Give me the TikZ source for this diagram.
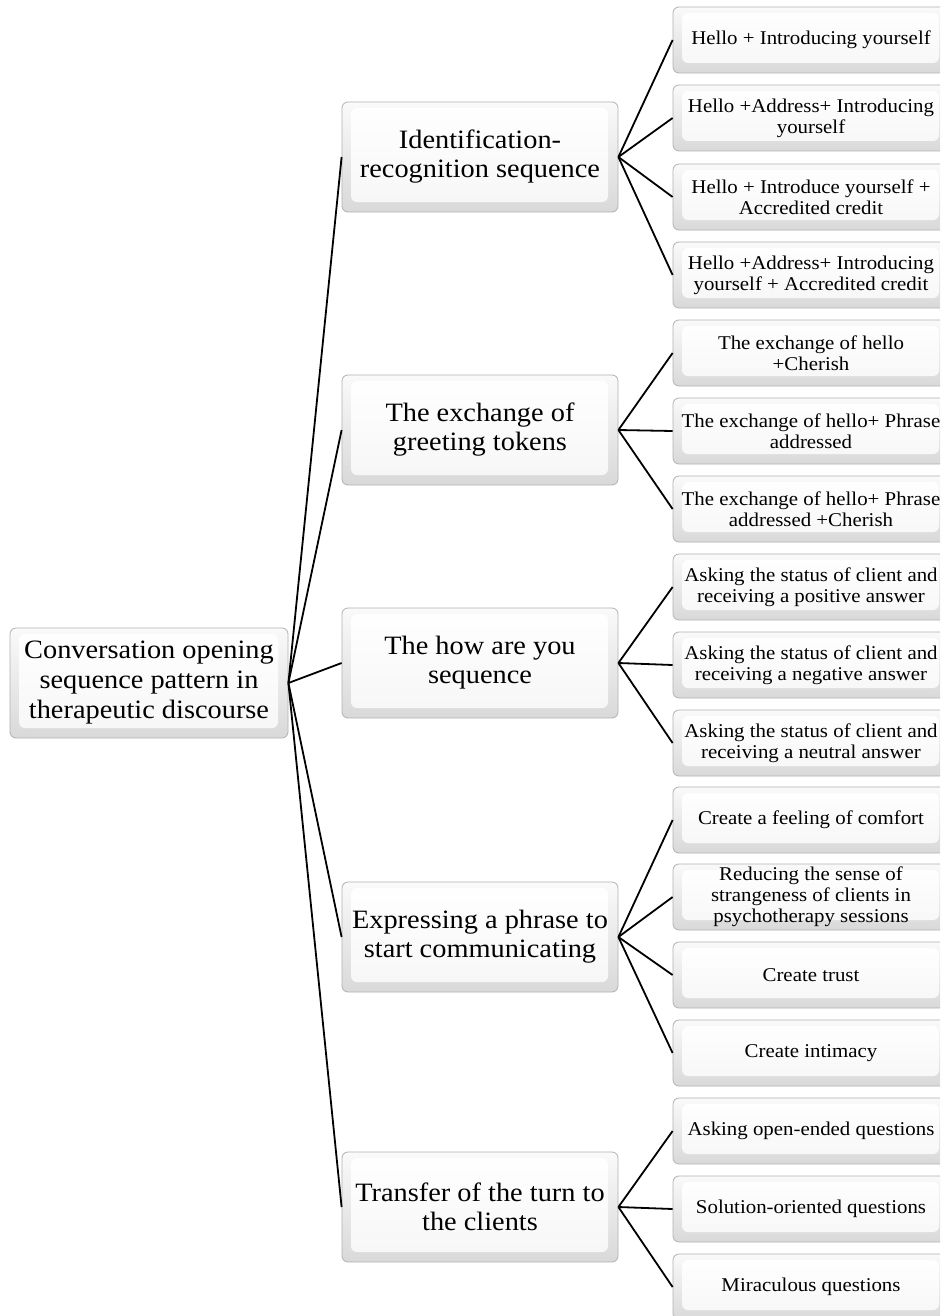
\documentclass[tikz,border=0pt]{standalone}
\usepackage{fontspec}
\setmainfont[FakeStretch=1.07]{Liberation Serif}
\usetikzlibrary{calc}
\tikzset{
	>=latex,
	box/.style={draw=gray!60, line width=0.8pt, rounded corners=6pt, top color=gray!4, bottom color=gray!30, align=center, inner sep=2pt,
		path picture={\shade[top color=white, bottom color=gray!7] ([xshift=9pt,yshift=-6pt]path picture bounding box.north west) rectangle ([xshift=-10pt,yshift=10pt]path picture bounding box.south east);}},
	rootbox/.style={box, minimum width=278pt, minimum height=110pt, font=\fontsize{26.5}{30}\selectfont},
	midbox/.style={box, minimum width=276pt, minimum height=110pt, font=\fontsize{26.5}{29}\selectfont},
	leafbox/.style={box, minimum width=276pt, minimum height=66pt, font=\fontsize{19.5}{21}\selectfont},
	link/.style={line width=1.8pt}
}
\begin{document}
\begin{tikzpicture}[x=1pt,y=-1pt]
	\clip (0,0) rectangle (940,1316);
	\fill[white] (0,0) rectangle (940,1316);
	\node[rootbox] (root) at (149,683) {Conversation opening\\sequence pattern in\\therapeutic discourse};
	\node[midbox] (idseq) at (480,157) {Identification-\\recognition sequence};
	\node[midbox] (greet) at (480,430) {The exchange of\\greeting tokens};
	\node[midbox] (howru) at (480,663) {The how are you\\sequence};
	\node[midbox] (phrase) at (480,937) {Expressing a phrase to\\start communicating};
	\node[midbox] (turn) at (480,1207) {Transfer of the turn to\\the clients};
	\node[leafbox] (hintro) at (811,40) {Hello + Introducing yourself};
	\node[leafbox] (haddr) at (811,118) {Hello +Address+ Introducing\\yourself};
	\node[leafbox] (hcred) at (811,197) {Hello + Introduce yourself +\\Accredited credit};
	\node[leafbox] (hfull) at (811,275) {Hello +Address+ Introducing\\yourself + Accredited credit};
	\node[leafbox] (gcher) at (811,353) {The exchange of hello\\+Cherish};
	\node[leafbox] (gaddr) at (811,431) {The exchange of hello+ Phrase\\addressed};
	\node[leafbox] (gboth) at (811,509) {The exchange of hello+ Phrase\\addressed +Cherish};
	\node[leafbox] (spos) at (811,587) {Asking the status of client and\\receiving a positive answer};
	\node[leafbox] (sneg) at (811,665) {Asking the status of client and\\receiving a negative answer};
	\node[leafbox] (sneu) at (811,743) {Asking the status of client and\\receiving a neutral answer};
	\node[leafbox] (comfort) at (811,820) {Create a feeling of comfort};
	\node[leafbox] (strange) at (811,897) {Reducing the sense of\\strangeness of clients in\\psychotherapy sessions};
	\node[leafbox] (trust) at (811,975) {Create trust};
	\node[leafbox] (intim) at (811,1053) {Create intimacy};
	\node[leafbox] (open) at (811,1131) {Asking open-ended questions};
	\node[leafbox] (solut) at (811,1209) {Solution-oriented questions};
	\node[leafbox] (mirac) at (811,1287) {Miraculous questions};
	\draw[link] (root.east) -- (idseq.west);
	\draw[link] (root.east) -- (greet.west);
	\draw[link] (root.east) -- (howru.west);
	\draw[link] (root.east) -- (phrase.west);
	\draw[link] (root.east) -- (turn.west);
	\draw[link] (idseq.east) -- (hintro.west);
	\draw[link] (idseq.east) -- (haddr.west);
	\draw[link] (idseq.east) -- (hcred.west);
	\draw[link] (idseq.east) -- (hfull.west);
	\draw[link] (greet.east) -- (gcher.west);
	\draw[link] (greet.east) -- (gaddr.west);
	\draw[link] (greet.east) -- (gboth.west);
	\draw[link] (howru.east) -- (spos.west);
	\draw[link] (howru.east) -- (sneg.west);
	\draw[link] (howru.east) -- (sneu.west);
	\draw[link] (phrase.east) -- (comfort.west);
	\draw[link] (phrase.east) -- (strange.west);
	\draw[link] (phrase.east) -- (trust.west);
	\draw[link] (phrase.east) -- (intim.west);
	\draw[link] (turn.east) -- (open.west);
	\draw[link] (turn.east) -- (solut.west);
	\draw[link] (turn.east) -- (mirac.west);
\end{tikzpicture}
\end{document}
